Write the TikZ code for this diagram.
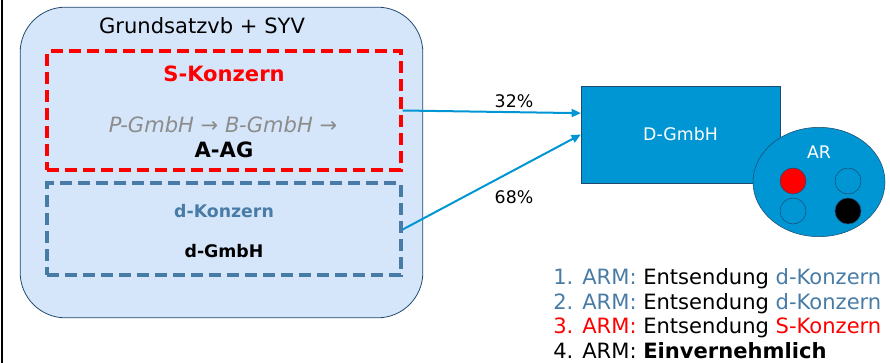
\documentclass[tikz,border=0pt]{standalone}
\usepackage{fontspec}
\setmainfont{DejaVu Sans}
\usepackage{tikz}
\usetikzlibrary{arrows.meta, calc, positioning, shapes.geometric}
\definecolor{ZV-light}{RGB}{214,230,250}
\definecolor{ZV-frame}{RGB}{31,73,110}
\definecolor{ZV-red}{RGB}{255,0,0}
\definecolor{ZV-steel}{RGB}{72,124,166}
\definecolor{ZV-cyan}{RGB}{0,150,212}
\colorlet{ZV-grey}{black!45}
\newcommand\mainsize{\fontsize{15.8}{19}\selectfont}
\newcommand\minorsize{\fontsize{13}{16}\selectfont}
\tikzset{%
    edge/.style={%
        -{Triangle[length=7pt,width=6pt]},
        draw=ZV-cyan,
        line width=1.5pt,
    },
    contract/.style={%
        rectangle,
        fill=ZV-light,
        draw=ZV-frame, semithick,
        minimum width=302pt,
        minimum height=233pt,
        rounded corners=34pt,
    },
    group/.style={%
        rectangle,
        draw, line width=3pt,
        dash pattern=on 9pt off 4.5pt,
        minimum width=265pt,
    },
    company/.style={%
        rectangle,
        fill=ZV-cyan,
        draw=ZV-frame, thin,
        minimum width=149pt,
        minimum height=73pt,
    },
    board/.style={%
        ellipse,
        fill=ZV-cyan,
        draw=ZV-frame, thin,
        minimum width=99pt,
        minimum height=82pt,
    },
    seat/.style={%
        circle,
        draw=ZV-frame, thin,
        minimum size=19.5pt,
        inner sep=0pt,
    },
    label/.style={%
        font=\mainsize,
        inner sep=0pt,
    },
    share/.style={%
        font=\minorsize,
        inner sep=0pt,
    },
    armline/.style={%
        font=\mainsize,
        anchor=base west,
        inner sep=0pt,
    },
}

\begin{document}
\begin{tikzpicture}[x=0.75pt, y=-0.75pt]
  % \draw[help lines] (0, 0) grid (890, 363);
  \useasboundingbox (0, 0) rectangle (890, 363);
  \draw[line width=2pt] (2, 0) -- (2, 363);

  \node [contract] at (221.5, 162.5) (contract) {};
  \node [label] at (202, 26) (title) {Grundsatzvb + SYV};

  \node [group, draw=ZV-red, minimum height=89pt] at (224, 110.5) (sgroup) {};
  \node [label, text=ZV-red, font=\mainsize\bfseries] at (224, 74) (sname) {S-Konzern};
  \node [label, text=ZV-grey, font=\mainsize\itshape] at (223, 125) (chain) {P-GmbH → B-GmbH →};
  \node [label, font=\mainsize\bfseries] at (224, 150) (aag) {A-AG};

  \node [group, draw=ZV-steel, minimum height=69pt] at (224, 229.5) (dgroup) {};
  \node [share, text=ZV-steel, font=\minorsize\bfseries] at (224, 211) (dname) {d-Konzern};
  \node [share, font=\minorsize\bfseries] at (224, 251) (dsub) {d-GmbH};

  \node [company, text=white, font=\minorsize] at (680.5, 134.5) (dgmbh) {D-GmbH};
  \node [board] at (819, 182) (ar) {};
  \node [share, text=white] at (819, 152) (arname) {AR};
  \node [seat, fill=ZV-red] at (793, 181) (seat3) {};
  \node [seat] at (848, 181) (seat1) {};
  \node [seat] at (793, 211) (seat2) {};
  \node [seat, fill=black] at (848, 211) (seat4) {};

  \coordinate (upper_in) at ($(dgmbh.west)+(0,16pt)$);
  \draw[edge] (sgroup.east) -- (upper_in);
  \draw[edge] (dgroup.east) -- (dgmbh.west);
  \node [share] at (514, 101) (share_s) {32\%};
  \node [share] at (514, 197) (share_d) {68\%};

  \node [armline] at (553, 285) (arm1) {\textcolor{ZV-steel}{1. ARM:} Entsendung \textcolor{ZV-steel}{d-Konzern}};
  \node [armline] at (553, 309.5) (arm2) {\textcolor{ZV-steel}{2. ARM:} Entsendung \textcolor{ZV-steel}{d-Konzern}};
  \node [armline] at (553, 334) (arm3) {\textcolor{ZV-red}{3. ARM:} Entsendung \textcolor{ZV-red}{S-Konzern}};
  \node [armline] at (553, 358.5) (arm4) {4. ARM: \textbf{Einvernehmlich}};
\end{tikzpicture}
\end{document}
